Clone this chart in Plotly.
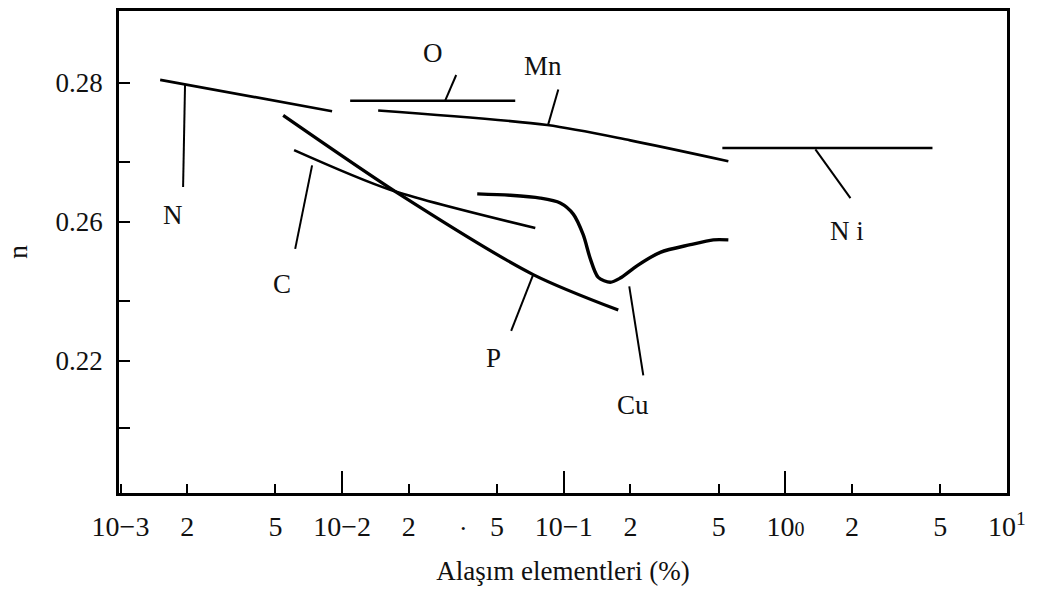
import numpy as np
import plotly.graph_objects as go

# ---- data ----
N_x = [0.00151, 0.00901]
N_y = [0.2804, 0.2759]

O_x = [0.01087, 0.0604]
O_y = [0.2774, 0.2774]

Mn_x = [0.01454, 0.0842, 0.1996, 0.553]
Mn_y = [0.2760, 0.2739, 0.2717, 0.2687]

Ni_x = [0.5195, 4.61]
Ni_y = [0.2706, 0.2706]

C_x = [0.00607, 0.01647, 0.0744]
C_y = [0.2703, 0.2646, 0.2591]

P_x = [0.00542, 0.01827, 0.0728, 0.1762]
P_y = [0.2753, 0.2639, 0.2524, 0.2473]

Cu_x = [0.0407, 0.0574, 0.0783, 0.0964, 0.1104, 0.1225, 0.1317, 0.1431,
        0.1622, 0.1799, 0.2147, 0.2727, 0.3725, 0.473, 0.553]
Cu_y = [0.2640, 0.2638, 0.2634, 0.2627, 0.2611, 0.2581, 0.2547, 0.2520,
        0.2513, 0.2519, 0.2537, 0.2556, 0.2567, 0.2574, 0.2574]

# label leader lines
lead_N_x, lead_N_y = [0.001955, 0.001916], [0.2797, 0.2650]
lead_C_x, lead_C_y = [0.00732, 0.00614], [0.2681, 0.2561]
lead_P_x, lead_P_y = [0.0728, 0.0579], [0.2524, 0.2443]
lead_Cu_x, lead_Cu_y = [0.1975, 0.2285], [0.2507, 0.2379]
lead_O_x, lead_O_y = [0.02917, 0.03271], [0.2774, 0.2811]
lead_Mn_x, lead_Mn_y = [0.0851, 0.0945], [0.2740, 0.2790]
lead_Ni_x, lead_Ni_y = [1.366, 1.966], [0.2704, 0.2634]

# label texts and positions
label_text = ["N", "C", "P", "Cu", "O", "Mn", "N i"]
label_x = [0.001726, 0.00536, 0.04805, 0.206, 0.02575, 0.0808, 1.905]
label_y = [0.2610, 0.2510, 0.2404, 0.2336, 0.2843, 0.2824, 0.2586]

# axis ticks
x_tickvals = [0.001, 0.002, 0.005, 0.01, 0.02, 0.05, 0.1, 0.2, 0.5, 1, 2, 5, 10]
x_ticktext = ["10\u22123", "2", "5", "10\u22122", "2", "5", "10\u22121", "2", "5",
              "10<span style='font-size:20px'>0</span>", "2", "5", "10<sup>1</sup>"]
x_decades = [0.01, 0.1, 1]
y_tickvals = [0.28, 0.26, 0.24]
y_ticktext = ["0.28", "0.26", "0.22"]
y_minor_vals = [0.2686, 0.2486, 0.2303]

FONT = "Liberation Serif"
fig = go.Figure()

main = [(N_x, N_y, 2.6, "linear"), (O_x, O_y, 2.6, "linear"),
        (Mn_x, Mn_y, 2.6, "spline"), (Ni_x, Ni_y, 2.6, "linear"),
        (C_x, C_y, 2.6, "spline"), (P_x, P_y, 3.2, "spline"),
        (Cu_x, Cu_y, 3.4, "spline")]
for xs, ys, w, shp in main:
    fig.add_trace(go.Scatter(x=xs, y=ys, mode="lines", showlegend=False,
                             line=dict(color="black", width=w, shape=shp,
                                       smoothing=0.8 if shp == "spline" else None)))

leads = [(lead_N_x, lead_N_y), (lead_C_x, lead_C_y), (lead_P_x, lead_P_y),
         (lead_Cu_x, lead_Cu_y), (lead_O_x, lead_O_y), (lead_Mn_x, lead_Mn_y),
         (lead_Ni_x, lead_Ni_y)]
for xs, ys in leads:
    fig.add_trace(go.Scatter(x=xs, y=ys, mode="lines", showlegend=False,
                             line=dict(color="black", width=2)))

for t, lx, ly in zip(label_text, label_x, label_y):
    fig.add_annotation(x=np.log10(lx), y=ly, xref="x", yref="y", text=t,
                       showarrow=False, xanchor="center", yanchor="middle",
                       font=dict(family=FONT, size=27, color="#111"))

fig.add_annotation(x=np.log10(0.0352), y=-0.06, xref="x", yref="paper", text=".",
                   showarrow=False, xanchor="center", yanchor="middle",
                   font=dict(family=FONT, size=26, color="#111"))

fig.update_layout(
    width=1037, height=592,
    margin=dict(l=119, r=30, t=8, b=99),
    paper_bgcolor="white", plot_bgcolor="white",
    xaxis=dict(type="log", range=[-3.0068, 1.0], tickmode="array",
               tickvals=x_tickvals, ticktext=x_ticktext,
               ticks="inside", ticklen=9, tickwidth=2, tickcolor="black",
               minor=dict(tickmode="array", tickvals=x_decades, ticks="inside",
                          ticklen=22, tickwidth=2, tickcolor="black", showgrid=False),
               showline=True, linecolor="black", linewidth=2.5, mirror=True,
               showgrid=False, zeroline=False, ticklabelstandoff=7,
               tickfont=dict(family=FONT, size=28, color="#111"),
               title=dict(text="Alaşım elementleri (%)", standoff=20,
                          font=dict(family=FONT, size=27, color="#111"))),
    yaxis=dict(range=[0.2210, 0.2903], tickmode="array",
               tickvals=y_tickvals, ticktext=y_ticktext,
               ticks="inside", ticklen=11, tickwidth=2, tickcolor="black",
               minor=dict(tickmode="array", tickvals=y_minor_vals, ticks="inside",
                          ticklen=11, tickwidth=2, tickcolor="black", showgrid=False),
               showline=True, linecolor="black", linewidth=2.5, mirror=True,
               showgrid=False, zeroline=False, ticklabelstandoff=8,
               tickfont=dict(family=FONT, size=27, color="#111"),
               title=dict(text="n", standoff=20,
                          font=dict(family=FONT, size=28, color="#111"))),
)

fig.write_html("out.html")
